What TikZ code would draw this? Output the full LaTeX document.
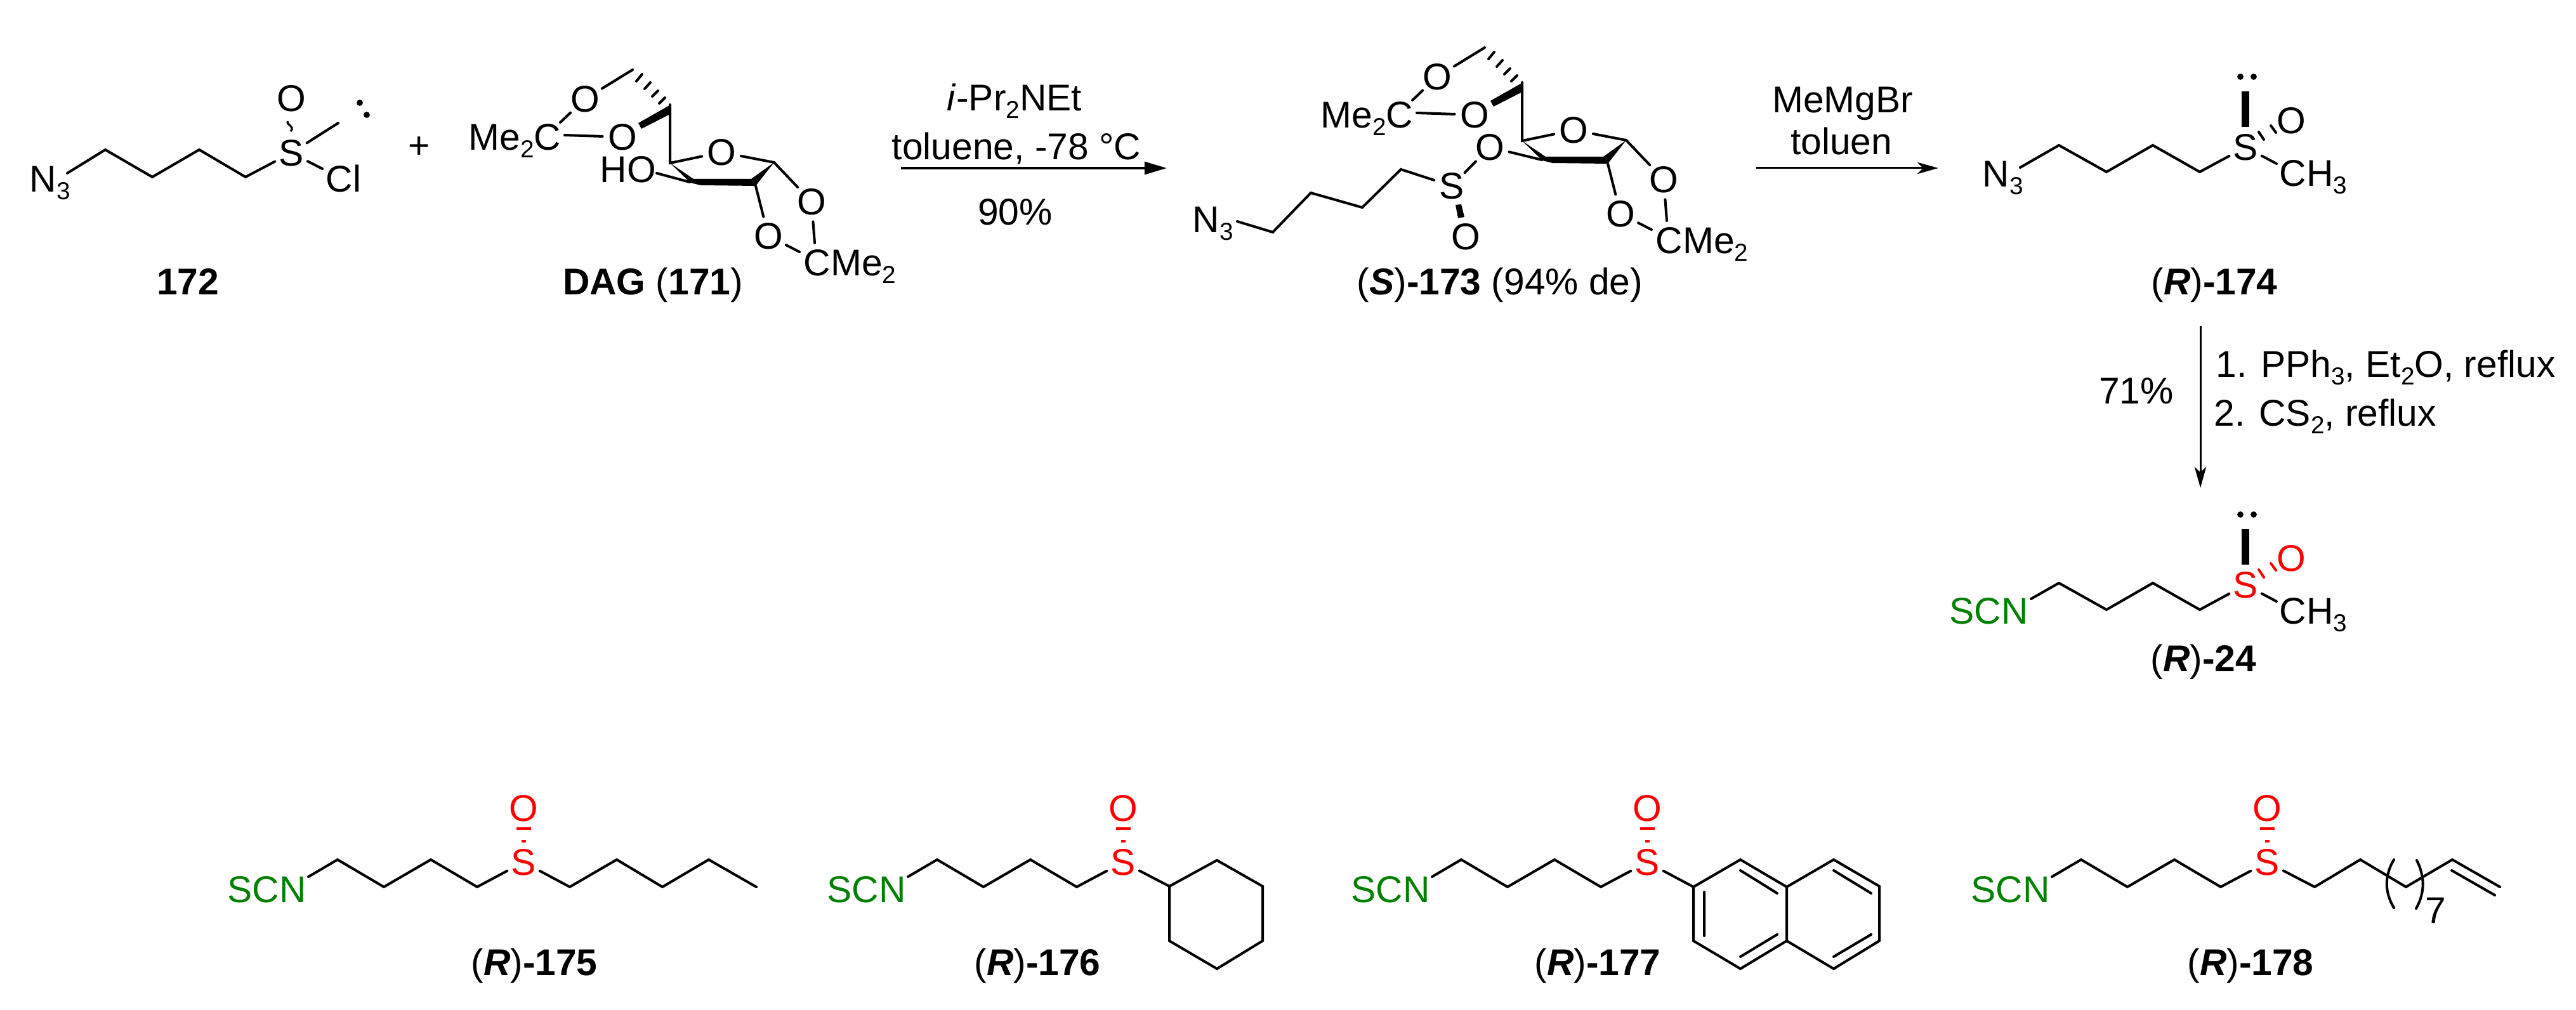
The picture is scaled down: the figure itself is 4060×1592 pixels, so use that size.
\documentclass[tikz,border=0pt]{standalone}
\usepackage{fontspec}
\setmainfont{Liberation Sans}
\usepackage{xcolor}
\usepackage{tikz}
\usetikzlibrary{arrows.meta}

\definecolor{scngreen}{RGB}{0,128,0}
\newcommand{\subnum}[1]{\raisebox{-3.4pt}{\fontsize{11}{12}\selectfont #1}}
\newcommand{\rtag}[1]{(\textbf{\textit{R}})\textbf{-#1}}
\tikzset{
  bond/.style={line width=1.14pt,line cap=round},
  atom/.style={circle,inner sep=0pt,font=\fontsize{16.7}{20}\selectfont},
  txt/.style={inner sep=0pt,anchor=base west,font=\fontsize{16.7}{20}\selectfont},
  lbl/.style={txt,anchor=base},
  reagent/.style={line width=0.85pt,-{Stealth[length=9.4pt,width=5.2pt,inset=2.5pt]}}
}

\begin{document}
\begin{tikzpicture}[x=0.01cm,y=-0.01cm]
\useasboundingbox (0,0) rectangle (4060,1592);

% Sulfinyl chloride 172
\node[txt] (nthreea) at (46,303) {N\subnum{3}};
\node[atom] (sa) at (459,241) {S};
\node[atom] (oa) at (459,155) {O};
\node[txt] (cl) at (513,303) {Cl};
\path (106,273) coordinate (a0) (166,236) coordinate (a1) (240,279) coordinate (a2)
  (314,236) coordinate (a3) (387,279) coordinate (a4);
\coordinate (mea) at (533,194);
\coordinate (cla) at (508,266);
\draw[bond] (a0) -- (a1) -- (a2) -- (a3) -- (a4) -- (sa);
\draw[bond] (sa) -- (mea);
\draw[bond] (sa) -- (cla);
\draw[line width=0.9pt] (454,191) .. controls (449,196) and (466,199) .. (458,207);
\fill (567,162) circle[radius=1.4pt] (578,181) circle[radius=1.4pt];
\node[lbl] (labela) at (296,465) {\textbf{172}};
\node[lbl] (plus) at (661,250) {+};

% Sugar part, used for DAG and for the sulfinate
\foreach \sx/\sy/\id in {0/0/d,1343/-35/e} {
  \begin{scope}[shift={(\sx,\sy)}]
    \node[txt] (mec\id) at (738,237) {Me\subnum{2}C};
    \node[atom] (ot\id) at (922,156) {O};
    \node[atom] (ol\id) at (981,216) {O};
    \node[atom] (or\id) at (1137,240) {O};
    \node[atom] (oq\id) at (1279,318) {O};
    \node[atom] (ob\id) at (1211,372) {O};
    \node[txt] (cme\id) at (1266,435) {CMe\subnum{2}};
    \path (883,193) coordinate (mt\id) (890,213) coordinate (ml\id)
      (997,110) coordinate (ch\id) (1056,165) coordinate (cf\id)
      (1056,257) coordinate (cr\id) (1220,256) coordinate (ca\id)
      (1191,293) coordinate (cb\id) (1260,397) coordinate (kb\id)
      (1284,383) coordinate (kq\id) (1087,287) coordinate (cc\id);
    \draw[bond] (mt\id) -- (ot\id);
    \draw[bond] (ml\id) -- (ol\id);
    \draw[bond] (ot\id) -- (ch\id);
    \draw[bond] (cf\id) -- (cr\id) -- (or\id) -- (ca\id) -- (oq\id);
    \draw[bond] (cb\id) -- (ob\id);
    \draw[bond] (ob\id) -- (kb\id);
    \draw[bond] (oq\id) -- (kq\id);
    % Hashed and bold ring bonds
    \draw[bond] (1039,163) -- (1048,154) (1028,152) -- (1037,143)
      (1016,140) -- (1025,130) (1003,128) -- (1012,117);
    \fill (1006,194) -- (1011,203) -- (1056,180) -- (1057,165) -- cycle;
    \fill (1056,257) -- (1093,282) -- (1088,288) -- cycle;
    \fill (1093,282) -- (1184,282) -- (1191,293) -- (1104,292) -- (1088,288) -- cycle;
    \fill (1220,256) -- (1184,282) -- (1191,293) -- cycle;
  \end{scope}
}
\node[txt] (ho) at (945,288) {HO};
\coordinate (hoend) at (1035,273);
\draw[bond] (hoend) -- (ccd);
\node[lbl] (labeld) at (1029,465) {\textbf{DAG} (\textbf{171})};

% First step
\coordinate (ara) at (1420,265);
\coordinate (arb) at (1839,265);
\draw[line width=1.14pt,-{Stealth[length=10pt,width=5.6pt,inset=0pt]}] (ara) -- (arb);
\node[lbl] (base) at (1599,175) {\textit{i}-Pr\subnum{2}NEt};
\node[lbl] (solva) at (1602,252) {toluene, -78 °C};
\node[lbl] (yielda) at (1600,355) {90\%};

% Sulfinate 173
\node[atom] (oc) at (2348,232) {O};
\node[atom] (sc) at (2288,293) {S};
\node[atom] (od) at (2310,373) {O};
\node[txt] (nthreec) at (1879,367) {N\subnum{3}};
\path (1950,349) coordinate (c0) (2006,366) coordinate (c1) (2066,304) coordinate (c2)
  (2147,327) coordinate (c3) (2208,267) coordinate (c4);
\draw[bond] (c0) -- (c1) -- (c2) -- (c3) -- (c4) -- (sc);
\draw[bond] (sc) -- (oc);
\draw[bond] (oc) -- (cce);
\fill (2294,323) -- (2303,322) -- (2308,342) -- (2298,344) -- cycle;
\node[lbl] (labelc) at (2364,465) {(\textbf{\textit{S}})\textbf{-173} (94\% de)};

% Second step
\coordinate (arc) at (2768,265);
\coordinate (ard) at (3055,265);
\draw[reagent] (arc) -- (ard);
\node[lbl] (grig) at (2904,178) {MeMgBr};
\node[lbl] (solvb) at (2902,244) {toluen};

% Sulfoxides with lone pair, 174 and 24
\foreach \dy/\id/\scol/\ocol in {0/f/black/black,690/g/red/red} {
  \begin{scope}[shift={(0,\dy)}]
    \node[atom,text=\scol] (s\id) at (3539,232) {S};
    \node[atom,text=\ocol] (o\id) at (3611,190) {O};
    \node[txt] (ch\id) at (3592,294) {CH\subnum{3}};
    \path (3245,229) coordinate (v1\id) (3320,271) coordinate (v2\id)
      (3393,229) coordinate (v3\id) (3467,271) coordinate (v4\id)
      (3588,258) coordinate (m\id);
    \draw[bond] (v1\id) -- (v2\id) -- (v3\id) -- (v4\id) -- (s\id);
    \draw[bond] (s\id) -- (m\id);
    \draw[bond,\ocol] (3560,208) -- (3568,220) (3579,198) -- (3587,209);
    \fill (3533,144) rectangle (3545,200);
    \fill (3531,121) circle[radius=1.4pt] (3552,121) circle[radius=1.4pt];
  \end{scope}
}
\node[txt] (nthreef) at (3124,295) {N\subnum{3}};
\coordinate (v0f) at (3184,264);
\draw[bond] (v0f) -- (v1f);
\node[lbl] (labelf) at (3490,465) {\rtag{174}};
\node[txt,text=scngreen] (scng) at (3072,984) {SCN};
\coordinate (v0g) at (3201,944);
\draw[bond] (v0g) -- (v1g);
\node[lbl] (labelg) at (3473,1058) {\rtag{24}};

% Third step
\coordinate (are) at (3468,514);
\coordinate (arf) at (3468,769);
\draw[reagent] (are) -- (arf);
\node[lbl] (yieldc) at (3367,637) {71\%};
\node[txt] (stepa) at (3492,595) {1. PPh\subnum{3}, Et\subnum{2}O, reflux};
\node[txt] (stepb) at (3489,672) {2. CS\subnum{2}, reflux};

% Bottom row, common chain
\foreach \sx/\lx/\id/\num in {0/842/h/175,945/1635/i/176,1771/2518/j/177,2748/3547/k/178} {
  \begin{scope}[shift={(\sx,0)}]
    \node[txt,text=scngreen] (scn\id) at (358,1422) {SCN};
    \node[atom,text=red] (s\id) at (825,1359) {S};
    \node[atom,text=red] (o\id) at (825,1274) {O};
    \path (486,1382) coordinate (b0\id) (532,1355) coordinate (b1\id)
      (605,1398) coordinate (b2\id) (679,1355) coordinate (b3\id)
      (752,1398) coordinate (b4\id);
    \draw[bond] (b0\id) -- (b1\id) -- (b2\id) -- (b3\id) -- (b4\id) -- (s\id);
    \draw[red,line width=1.14pt] (813.5,1306) -- (836.5,1306) (821.5,1326) -- (828.5,1326);
  \end{scope}
  \node[lbl] (label\id) at (\lx,1537) {\rtag{\num}};
}

% Pentyl
\path (898,1398) coordinate (h5) (972,1355) coordinate (h6) (1044,1398) coordinate (h7)
  (1117,1355) coordinate (h8) (1192,1398) coordinate (h9);
\draw[bond] (sh) -- (h5) -- (h6) -- (h7) -- (h8) -- (h9);

% Cyclohexyl
\path (1843,1397) coordinate (i1) (1918,1356) coordinate (i2) (1990,1397) coordinate (i3)
  (1990,1483) coordinate (i4) (1918,1527) coordinate (i5) (1843,1483) coordinate (i6);
\draw[bond] (si) -- (i1);
\draw[bond] (i1) -- (i2) -- (i3) -- (i4) -- (i5) -- (i6) -- cycle;

% Naphthyl
\path (2669,1398) coordinate (j1) (2743,1355) coordinate (j2) (2816,1398) coordinate (j3)
  (2816,1483) coordinate (j4) (2743,1527) coordinate (j5) (2669,1483) coordinate (j6)
  (2890,1355) coordinate (j7) (2962,1397) coordinate (j8) (2962,1483) coordinate (j9)
  (2890,1527) coordinate (j10);
\draw[bond] (sj) -- (j1);
\draw[bond] (j1) -- (j2) -- (j3) -- (j4) -- (j5) -- (j6) -- cycle;
\draw[bond] (j3) -- (j7) -- (j8) -- (j9) -- (j10) -- (j4);
\draw[bond] (2743,1372) -- (2801,1408) (2686,1406) -- (2686,1475) (2743,1508) -- (2801,1473)
  (2890,1372) -- (2949,1408) (2890,1508) -- (2949,1473);

% Alkenyl with repeat unit
\path (3648,1398) coordinate (k5) (3720,1355) coordinate (k6) (3792,1398) coordinate (k7)
  (3865,1355) coordinate (k8) (3940,1398) coordinate (k9);
\draw[bond] (sk) -- (k5) -- (k6) -- (k7) -- (k8) -- (k9);
\draw[bond] (3864,1372) -- (3932,1411);
\draw[bond] (3773,1355) .. controls (3758,1380) and (3758,1406) .. (3773,1431);
\draw[bond] (3809,1356) .. controls (3822,1382) and (3822,1407) .. (3808,1432);
\node[txt] (seven) at (3822,1455) {7};
\end{tikzpicture}
\end{document}
